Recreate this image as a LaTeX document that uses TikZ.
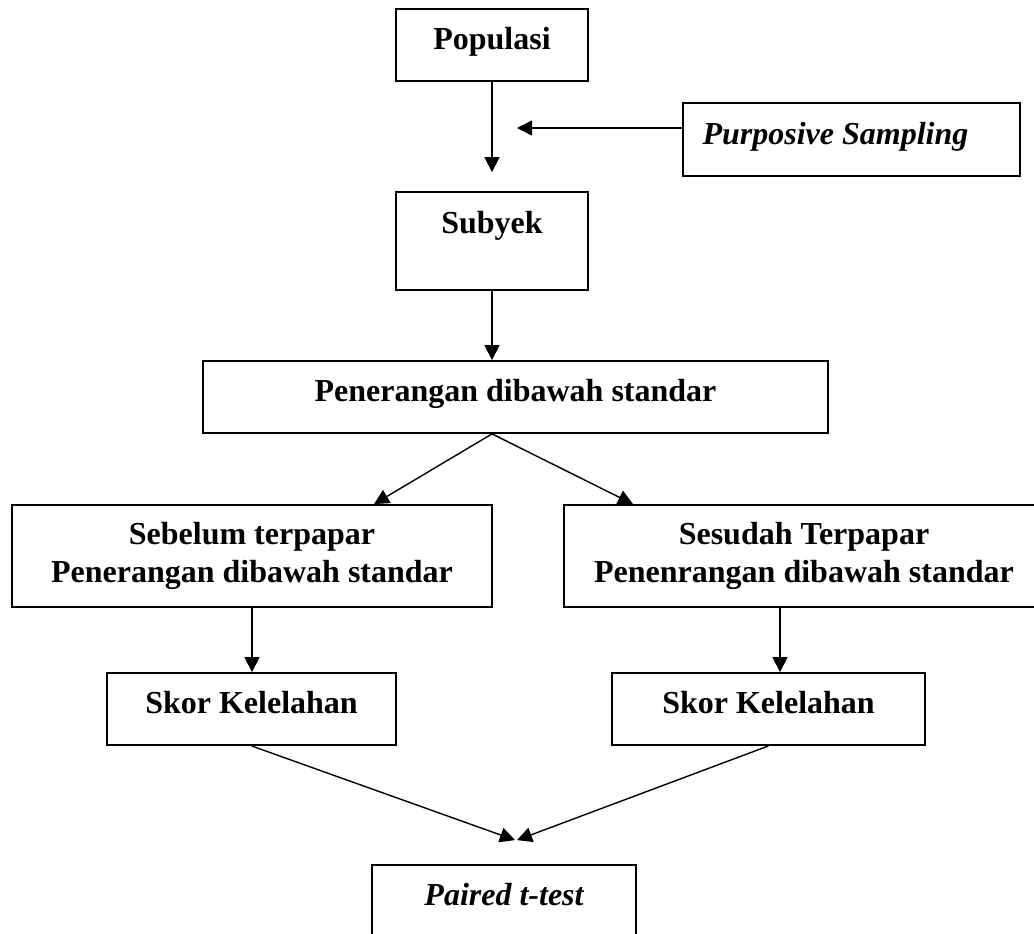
\documentclass[tikz,border=0pt]{standalone}
\usepackage{fontspec}
\setmainfont{Liberation Serif}
\usetikzlibrary{arrows.meta, positioning, calc}

\begin{document}
\begin{tikzpicture}[x=0.5pt, y=-0.5pt, >={Triangle[length=7.5pt, width=7.5pt]},
    font=\fontsize{16}{19}\selectfont\bfseries,
    box/.style={draw, line width=0.9pt, inner sep=0pt, align=center},
    single/.style={text height=11pt, text depth=6.5pt},
    arr/.style={->, line width=0.7pt}]

\path[use as bounding box, clip] (0, 0) rectangle (1034, 933);

% ── Population, sampling, subjects ───────────────────────────────
\node[box, single, minimum width=96pt, minimum height=36pt] (pop) at (492, 45) {Populasi};
\node[box, single, minimum width=168.5pt, minimum height=36.5pt] (purp) at (851.5, 139.5)
    {{\itshape Purposive Sampling}\hspace{16pt}};
\node[box, single, text depth=19pt, minimum width=96pt, minimum height=49pt] (subj) at (492, 241) {Subyek};

% ── Treatment ────────────────────────────────────────────────────
\node[box, single, minimum width=312.5pt, minimum height=36pt] (pen) at (515.5, 397) {Penerangan dibawah standar};

% Before / after
\node[box, minimum width=240pt, minimum height=51pt] (sebelum) at (252, 556)
    {Sebelum terpapar\\Penerangan dibawah standar};
\node[box, minimum width=240pt, minimum height=51pt] (sesudah) at (804, 556)
    {Sesudah Terpapar\\Penenrangan dibawah standar};

% Scores
\node[box, single, minimum width=144.5pt, minimum height=36pt] (skorA) at (251.5, 709) {Skor Kelelahan};
\node[box, single, minimum width=156.5pt, minimum height=36pt] (skorB) at (768.5, 709) {Skor Kelelahan};

% ── Test ─────────────────────────────────────────────────────────
\node[box, single, minimum width=132pt, minimum height=36pt] (paired) at (504, 901) {\itshape Paired t-test};

% Arrows
\coordinate (pin) at (517, 128);
\draw[arr, shorten >=9.5pt] (pop) -- (subj);
\draw[arr] (purp.west |- pin) -- (pin);
\draw[arr] (subj) -- (subj |- pen.north);

\coordinate (fork) at (subj |- pen.south);
\draw[arr] (fork) -- ($(sebelum.north)+(122, 0)$);
\draw[arr] (fork) -- ($(sesudah.north)+(-171, 0)$);

\coordinate (rdown) at ($(skorB.north)+(11.5, 0)$);
\draw[arr] (sebelum) -- (sebelum |- skorA.north);
\draw[arr] (rdown |- sesudah.south) -- (rdown);

\draw[arr] (skorA.south) -- ($(paired.north)+(11, -24)$);
\draw[arr] (skorB.south) -- ($(paired.north)+(13, -24)$);

\end{tikzpicture}
\end{document}
